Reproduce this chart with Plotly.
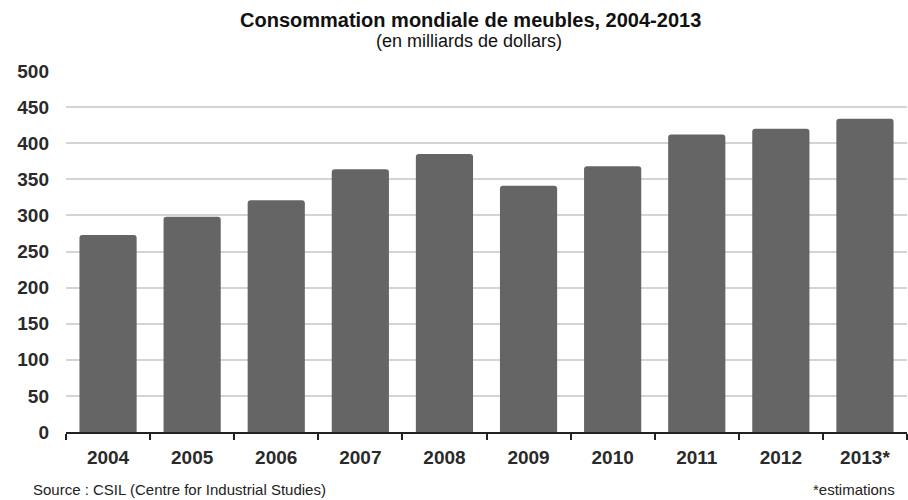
import plotly.graph_objects as go

years = ["2004", "2005", "2006", "2007", "2008", "2009", "2010", "2011", "2012", "2013*"]
values = [273, 298, 321, 364, 385, 341, 368, 412, 420, 434]
y_ticks = [0, 50, 100, 150, 200, 250, 300, 350, 400, 450, 500]

title_text = "<b>Consommation mondiale de meubles, 2004-2013</b>"
subtitle_text = "(en milliards de dollars)"
source_text = "Source : CSIL (Centre for Industrial Studies)"
note_text = "*estimations"

SANS = "Liberation Sans, Arial, sans-serif"

L, R, T, B = 66, 1, 71, 68
W, H = 908, 500

fig = go.Figure(
    go.Bar(
        x=years,
        y=values,
        marker=dict(color="#656565", line=dict(width=0), cornerradius=3),
        hoverinfo="x+y",
    )
)

fig.update_layout(
    width=W,
    height=H,
    margin=dict(l=L, r=R, t=T, b=B, autoexpand=False),
    paper_bgcolor="white",
    plot_bgcolor="white",
    bargap=0.32,
    showlegend=False,
    font=dict(family=SANS, color="#222222"),
    xaxis=dict(
        type="category",
        automargin=False,
        showgrid=False,
        showline=True,
        linecolor="#222222",
        linewidth=1.5,
        ticks="outside",
        tickson="boundaries",
        ticklen=6,
        tickwidth=1.5,
        tickcolor="#222222",
        tickfont=dict(family=SANS, size=19, color="#2a2a2a", weight="bold"),
        ticklabelstandoff=7,
    ),
    yaxis=dict(
        range=[0, 500],
        automargin=False,
        tickvals=y_ticks,
        showgrid=True,
        gridcolor="#d4d4d4",
        gridwidth=1.5,
        zeroline=False,
        showline=False,
        ticks="",
        tickfont=dict(family=SANS, size=19, color="#2a2a2a", weight="bold"),
        ticklabelstandoff=16,
    ),
)

pw = W - L - R
ph = H - T - B


def px_to_paper(px, py):
    return (px - L) / pw, (H - B - py) / ph


texts = [
    (title_text, 470, 20, "center", "middle", 20, "#111111"),
    (subtitle_text, 469, 41, "center", "middle", 18, "#111111"),
    (source_text, 32, 499, "left", "bottom", 15, "#222222"),
    (note_text, 896, 499, "right", "bottom", 15, "#222222"),
]
for txt, px, py, xa, ya, size, col in texts:
    ax, ay = px_to_paper(px, py)
    fig.add_annotation(
        text=txt, x=ax, y=ay, xref="paper", yref="paper", showarrow=False,
        xanchor=xa, yanchor=ya, borderpad=0,
        font=dict(family=SANS, size=size, color=col),
    )

fig.write_html(
    "out.html",
    config={"displayModeBar": False},
    post_script="document.body.style.margin='0';document.body.style.overflow='hidden';",
)
